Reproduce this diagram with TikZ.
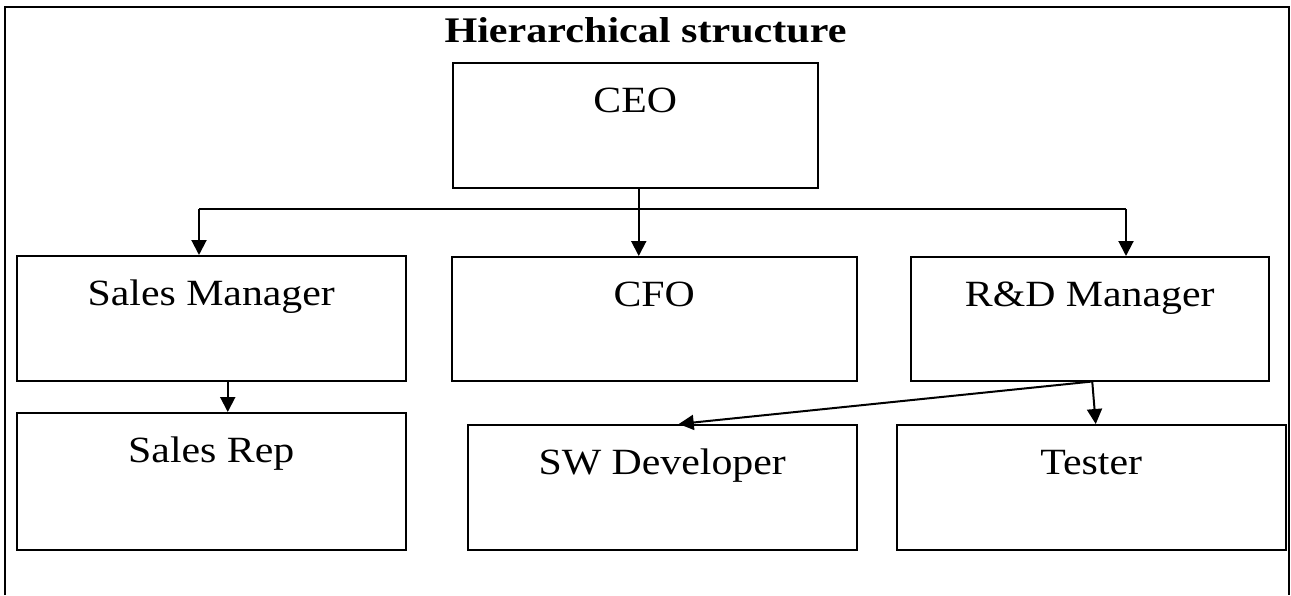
\documentclass[tikz,border=0pt]{standalone}
\usepackage{fontspec}
\newfontfamily\orgfont{Liberation Serif}[FakeStretch=1.13]
\newfontfamily\titlefont{Liberation Serif}[FakeStretch=1.17]
\usetikzlibrary{arrows.meta,calc}
\tikzset{
  orgbox/.style={draw, line width=1.5pt, inner sep=0pt, text height=50pt,
    anchor=north west, font=\orgfont\fontsize{37}{42}\selectfont},
  conn/.style={line width=2pt},
  arr/.style={line width=2pt, -{Triangle[length=15pt,width=15pt]}},
  frame/.style={line width=2.4pt},
  titletext/.style={anchor=base, inner sep=0pt, font=\titlefont\bfseries\fontsize{36}{40}\selectfont}
}
\begin{document}
\begin{tikzpicture}[x=1pt,y=-1pt]
\useasboundingbox (0,0) rectangle (1291,595);
\draw[frame] (5,595) -- (5,7) -- (1289,7) -- (1289,595);
\node[titletext] (title) at (645.5,42) {Hierarchical structure};

\node[orgbox, minimum width=365pt, text depth=75pt] (ceo) at (452,62) {CEO};
\node[orgbox, minimum width=389pt, text depth=75pt] (sm) at (16,255) {Sales Manager};
\node[orgbox, minimum width=405pt, text depth=74pt] (cfo) at (451,256) {CFO};
\node[orgbox, minimum width=358pt, text depth=74pt] (rd) at (910,256) {R\&D Manager};
\node[orgbox, minimum width=389pt, text depth=87pt] (sr) at (16,412) {Sales Rep};
\node[orgbox, minimum width=389pt, text depth=75pt] (sw) at (467,424) {SW Developer};
\node[orgbox, minimum width=389pt, text depth=75pt] (ts) at (896,424) {Tester};

\coordinate (busL) at (199,209);
\coordinate (busR) at (1126,209);
\draw[conn] (busL) -- (busR);
\draw[arr] ([xshift=3.5pt]ceo.south) -- ([xshift=3.5pt]ceo.south |- cfo.north);
\draw[arr] (busL) -- (busL |- sm.north);
\draw[arr] (busR) -- (busR |- rd.north);
\draw[arr] ([xshift=16.5pt]sm.south) -- ([xshift=16.5pt]sm.south |- sr.north);
\coordinate (rdj) at ([xshift=2.5pt]rd.south);
\draw[arr] (rdj) -- ([xshift=16.5pt]sw.north);
\draw[arr] (rdj) -- ([xshift=4.5pt]ts.north);
\end{tikzpicture}
\end{document}
